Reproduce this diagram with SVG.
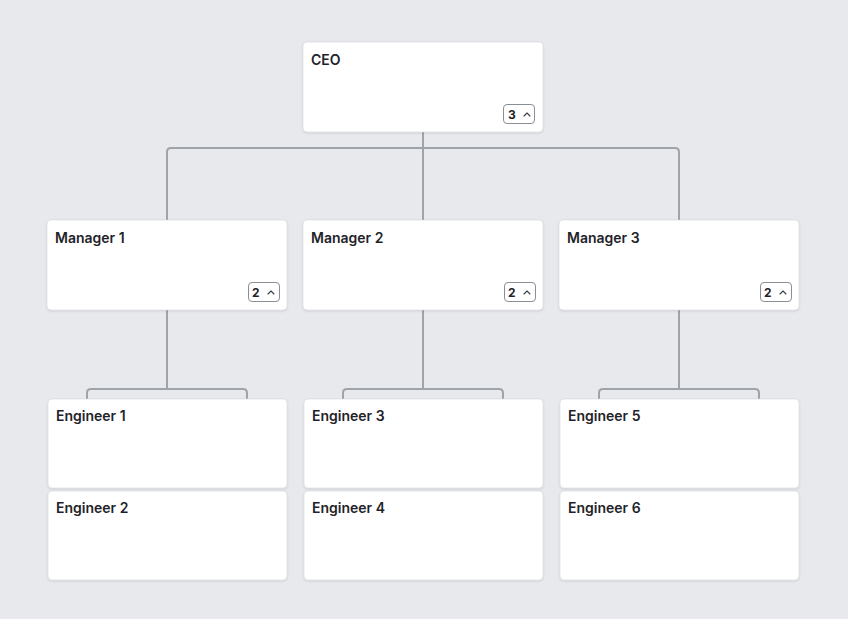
<svg xmlns="http://www.w3.org/2000/svg" width="848" height="619" viewBox="0 0 848 619">
<style>
.card{fill:#ffffff;stroke:#d4d6da;stroke-width:0.6;}
.lbl{font-family:Inter,"Liberation Sans",sans-serif;font-size:14px;font-weight:600;fill:#1f2329;}
.badge{fill:#ffffff;stroke:#8a8e95;stroke-width:1;}
.bnum{font-family:Inter,"Liberation Sans",sans-serif;font-size:12px;font-weight:700;fill:#1f2329;}
.chev{fill:none;stroke:#3a3e44;stroke-width:1.1;stroke-linecap:round;stroke-linejoin:round;}
.edge{fill:none;stroke:#9fa3aa;stroke-width:2;}
</style>
<defs>
<filter id="sh" x="-5%" y="-5%" width="110%" height="115%">
<feDropShadow dx="0" dy="1" stdDeviation="0.8" flood-color="#000" flood-opacity="0.12"/>
</filter>
</defs>
<rect width="848" height="619" fill="#e8e9ed"/>
<g id="connectors">
<path class="edge" d="M423 132 V148 M167 220 V152 Q167 148 171 148 H675 Q679 148 679 152 V220 M423 148 V220"/>
<path class="edge" d="M167 310 V389 M87 399 V393 Q87 389 91 389 H243 Q247 389 247 393 V399"/>
<path class="edge" d="M423 310 V389 M343 399 V393 Q343 389 347 389 H499 Q503 389 503 393 V399"/>
<path class="edge" d="M679 310 V389 M599 399 V393 Q599 389 603 389 H755 Q759 389 759 393 V399"/>
</g>
<g id="ceo">
<rect class="card" filter="url(#sh)" x="303" y="42" width="240" height="90" rx="4"/>
<text class="lbl" x="311" y="65">CEO</text>
<rect class="badge" x="503.5" y="104.5" width="31" height="19" rx="3.5"/>
<text class="bnum" x="508" y="118.5">3</text>
<path class="chev" d="M524 116 L527 113 L530 116"/>
</g>
<g id="manager1">
<rect class="card" filter="url(#sh)" x="47" y="220" width="240" height="90" rx="4"/>
<text class="lbl" x="55" y="243">Manager 1</text>
<rect class="badge" x="248.5" y="282.5" width="31" height="19" rx="3.5"/>
<text class="bnum" x="252" y="296.5">2</text>
<path class="chev" d="M268 294 L271 291 L274 294"/>
</g>
<g id="manager2">
<rect class="card" filter="url(#sh)" x="303" y="220" width="240" height="90" rx="4"/>
<text class="lbl" x="311" y="243">Manager 2</text>
<rect class="badge" x="504.5" y="282.5" width="31" height="19" rx="3.5"/>
<text class="bnum" x="508" y="296.5">2</text>
<path class="chev" d="M524 294 L527 291 L530 294"/>
</g>
<g id="manager3">
<rect class="card" filter="url(#sh)" x="559" y="220" width="240" height="90" rx="4"/>
<text class="lbl" x="567" y="243">Manager 3</text>
<rect class="badge" x="760.5" y="282.5" width="31" height="19" rx="3.5"/>
<text class="bnum" x="764" y="296.5">2</text>
<path class="chev" d="M780 294 L783 291 L786 294"/>
</g>
<g id="engineer1">
<rect class="card" filter="url(#sh)" x="48" y="399" width="239" height="89" rx="4"/>
<text class="lbl" x="56" y="421">Engineer 1</text>
</g>
<g id="engineer2">
<rect class="card" filter="url(#sh)" x="48" y="491" width="239" height="89" rx="4"/>
<text class="lbl" x="56" y="513">Engineer 2</text>
</g>
<g id="engineer3">
<rect class="card" filter="url(#sh)" x="304" y="399" width="239" height="89" rx="4"/>
<text class="lbl" x="312" y="421">Engineer 3</text>
</g>
<g id="engineer4">
<rect class="card" filter="url(#sh)" x="304" y="491" width="239" height="89" rx="4"/>
<text class="lbl" x="312" y="513">Engineer 4</text>
</g>
<g id="engineer5">
<rect class="card" filter="url(#sh)" x="560" y="399" width="239" height="89" rx="4"/>
<text class="lbl" x="568" y="421">Engineer 5</text>
</g>
<g id="engineer6">
<rect class="card" filter="url(#sh)" x="560" y="491" width="239" height="89" rx="4"/>
<text class="lbl" x="568" y="513">Engineer 6</text>
</g>
</svg>
